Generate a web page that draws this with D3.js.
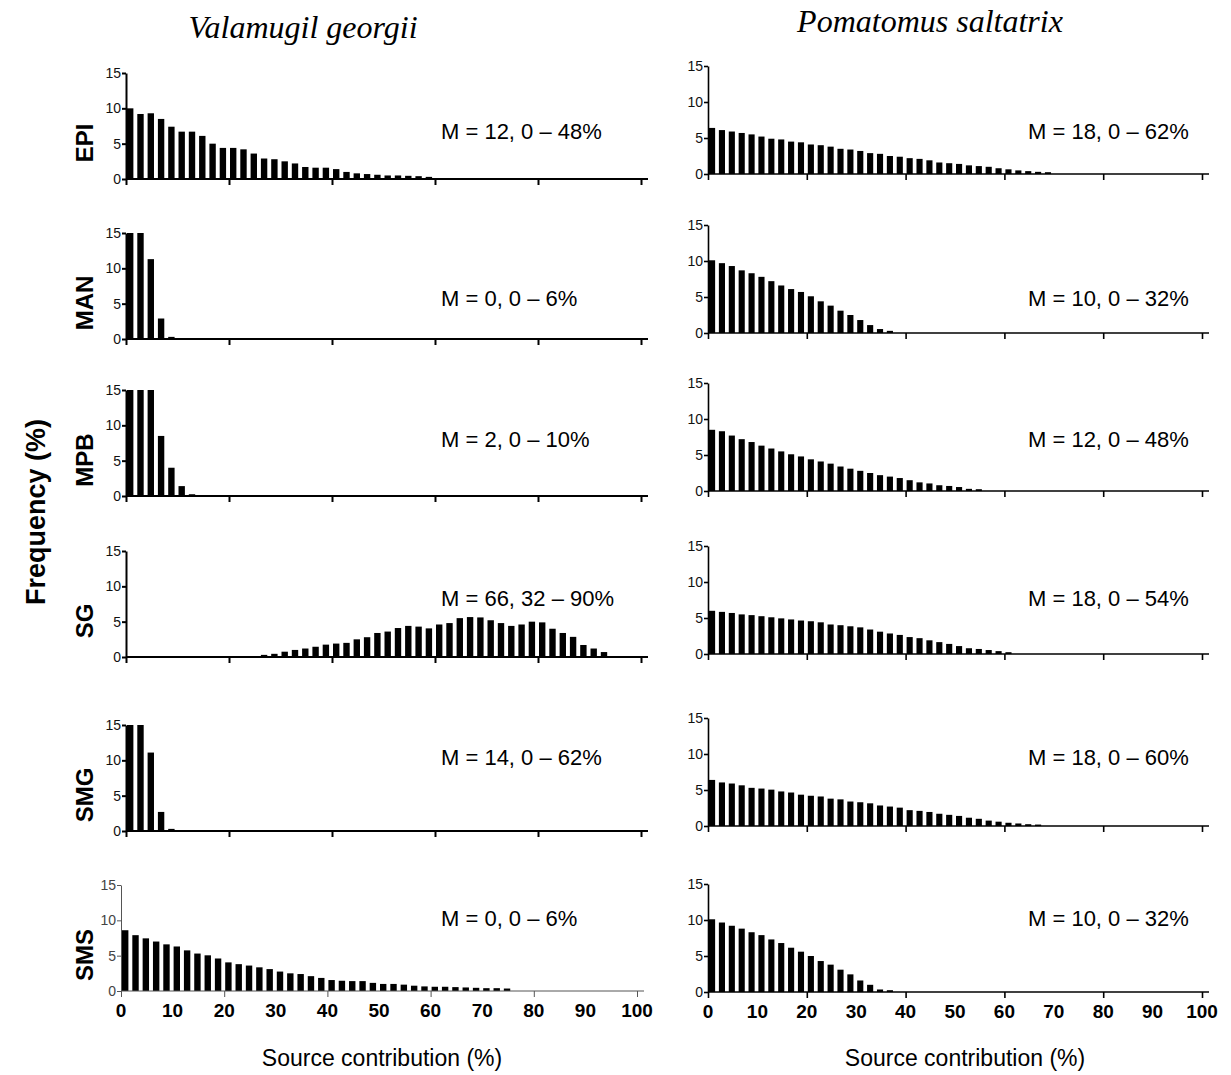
<!DOCTYPE html>
<html>
<head>
<meta charset="utf-8">
<script src="https://cdn.jsdelivr.net/npm/d3@7"></script>
<style>
  body { margin: 0; background: #fff; }
  svg text { font-family: Arial, "Liberation Sans", sans-serif; }
</style>
</head>
<body>
<svg id="board" width="1231" height="1075"></svg>
<script>
// sources (rows) and species (columns)
let sources = ['EPI', 'MAN', 'MPB', 'SG', 'SMG', 'SMS']
let species = ['Valamugil georgii', 'Pomatomus saltatrix']

// Valamugil georgii frequencies (%), 2% bins
let vgEPI = [10.0, 9.2, 9.3, 8.5, 7.4, 6.7, 6.7, 6.1, 5.0, 4.4, 4.4, 4.2, 3.6, 2.9, 2.8, 2.5, 2.2, 1.7, 1.6, 1.6, 1.4, 1.0, 0.8, 0.7, 0.6, 0.5, 0.5, 0.45, 0.4, 0.3]
let vgMAN = [15, 15, 11.3, 2.9, 0.3]
let vgMPB = [15, 15, 15, 8.5, 4.0, 1.4, 0.25]
let vgSG = [0.3, 0.45, 0.75, 1.0, 1.2, 1.45, 1.75, 1.9, 2.0, 2.5, 2.8, 3.4, 3.6, 4.1, 4.4, 4.3, 4.05, 4.6, 4.8, 5.5, 5.65, 5.6, 5.2, 4.8, 4.4, 4.6, 5.0, 4.9, 4.0, 3.4, 2.85, 1.7, 1.2, 0.7]
let vgSMG = [15, 15, 11.1, 2.7, 0.3]
let vgSMS = [8.6, 7.9, 7.45, 7.0, 6.6, 6.3, 5.75, 5.3, 5.05, 4.6, 4.05, 3.8, 3.6, 3.35, 3.1, 2.75, 2.5, 2.4, 2.1, 1.85, 1.55, 1.45, 1.4, 1.4, 1.15, 1.0, 1.0, 0.9, 0.75, 0.65, 0.6, 0.6, 0.55, 0.5, 0.45, 0.4, 0.4, 0.35]
let vgStart = [0, 0, 0, 26, 0, 0]
let vgLabels = ['M = 12, 0 – 48%', 'M = 0, 0 – 6%', 'M = 2, 0 – 10%', 'M = 66, 32 – 90%', 'M = 14, 0 – 62%', 'M = 0, 0 – 6%']

// Pomatomus saltatrix frequencies (%), 2% bins
let psEPI = [6.4, 6.1, 5.9, 5.7, 5.5, 5.2, 4.9, 4.8, 4.5, 4.4, 4.1, 4.0, 3.8, 3.5, 3.4, 3.2, 2.9, 2.8, 2.5, 2.4, 2.2, 2.1, 1.9, 1.6, 1.5, 1.4, 1.2, 1.1, 1.0, 0.8, 0.65, 0.5, 0.4, 0.3, 0.25]
let psMAN = [10.1, 9.7, 9.3, 8.7, 8.3, 7.8, 7.2, 6.6, 6.1, 5.7, 5.1, 4.4, 3.8, 3.1, 2.5, 1.8, 1.1, 0.55, 0.3]
let psMPB = [8.5, 8.3, 7.7, 7.2, 6.8, 6.3, 5.9, 5.5, 5.1, 4.8, 4.4, 4.1, 3.8, 3.4, 3.1, 2.8, 2.5, 2.2, 2.0, 1.8, 1.5, 1.2, 1.05, 0.8, 0.7, 0.55, 0.3, 0.25]
let psSG = [6.0, 5.85, 5.7, 5.5, 5.4, 5.25, 5.1, 4.95, 4.8, 4.65, 4.55, 4.4, 4.1, 4.0, 3.85, 3.7, 3.4, 3.1, 2.85, 2.65, 2.35, 2.2, 1.9, 1.65, 1.4, 1.1, 0.8, 0.7, 0.55, 0.4, 0.25]
let psSMG = [6.4, 6.05, 5.9, 5.65, 5.3, 5.2, 5.05, 4.8, 4.65, 4.35, 4.2, 4.1, 3.8, 3.7, 3.4, 3.3, 3.15, 2.85, 2.7, 2.55, 2.2, 2.1, 1.95, 1.7, 1.55, 1.4, 1.15, 1.0, 0.75, 0.6, 0.45, 0.35, 0.25, 0.2]
let psSMS = [10.1, 9.65, 9.2, 8.8, 8.3, 7.9, 7.3, 6.8, 6.15, 5.6, 5.0, 4.3, 3.8, 3.1, 2.45, 1.6, 1.0, 0.35, 0.25]
let psStart = [0, 0, 0, 0, 0, 0]
let psLabels = ['M = 18, 0 – 62%', 'M = 10, 0 – 32%', 'M = 12, 0 – 48%', 'M = 18, 0 – 54%', 'M = 18, 0 – 60%', 'M = 10, 0 – 32%']

let binWidth = 2
let yTicks = [0, 5, 10, 15]
let xTickMarks = [0, 20, 40, 60, 80, 100]
let xTickLabels = [0, 10, 20, 30, 40, 50, 60, 70, 80, 90, 100]

let columns = [
    { name: species[0], series: [vgEPI, vgMAN, vgMPB, vgSG, vgSMG, vgSMS], start: vgStart, labels: vgLabels },
    { name: species[1], series: [psEPI, psMAN, psMPB, psSG, psSMG, psSMS], start: psStart, labels: psLabels }
]

// panel layout
let colLayout = [
    { x0: 126, x1: 641, tops: [73, 233, 390, 551, 725, 885], h: 106, textX: 441, titleX: 303, titleY: 38, axisW: 2, xTitle: 382 },
    { x0: 708, x1: 1202, tops: [66, 225, 383, 546, 718, 884], h: 108, textX: 1028, titleX: 930, titleY: 32, axisW: 1.6, xTitle: 965 }
]
let textY = [139, 306, 447, 606, 765, 926]

let board = d3.select('#board')

columns.forEach((col, c) => {
    let lay = colLayout[c]

    board.append('text')
        .attr('x', lay.titleX)
        .attr('y', lay.titleY)
        .attr('text-anchor', 'middle')
        .style('font-family', '"Liberation Serif", "Times New Roman", serif')
        .style('font-style', 'italic')
        .style('font-size', '32px')
        .text(col.name)

    col.series.forEach((values, r) => {
        let last = (r === sources.length - 1)
        let thin = (c === 0 && last)
        let x0 = thin ? lay.x0 - 5 : lay.x0
        let x1 = thin ? lay.x1 - 4 : lay.x1
        let top = lay.tops[r]
        let bottom = top + lay.h

        let x = d3.scaleLinear().domain([0, 100]).range([x0, x1])
        let y = d3.scaleLinear().domain([0, 15]).range([bottom, top]).clamp(true)

        let g = board.append('g')
        let axisColor = thin ? '#555' : '#000'
        let axisW = thin ? 1 : lay.axisW

        // bars
        let barW = (x(binWidth) - x(0)) * 0.62
        g.selectAll('rect')
            .data(values)
            .enter()
            .append('rect')
            .attr('x', (d, i) => x(col.start[r] + i * binWidth) + 1)
            .attr('width', barW)
            .attr('y', (d) => y(d))
            .attr('height', (d) => y(0) - y(d))
            .attr('fill', '#000')

        // y axis
        let yAxis = d3.axisLeft(y).tickValues(yTicks).tickSize(4).tickSizeOuter(0)
        let ya = g.append('g')
            .attr('transform', 'translate(' + x0 + ',0)')
            .call(yAxis)
        ya.selectAll('path, line').attr('stroke', axisColor).attr('stroke-width', axisW)
        ya.selectAll('text')
            .style('font-size', '14px')
            .attr('fill', thin ? '#444' : '#111')
            .attr('x', -5)

        // x axis
        let xa = g.append('g')
            .attr('transform', 'translate(0,' + bottom + ')')
            .call(d3.axisBottom(x).tickValues(xTickMarks).tickSize(6).tickSizeOuter(0).tickFormat(''))
        xa.select('.domain').attr('d', 'M' + x0 + ',0H' + (x1 + 7))
        xa.selectAll('path, line').attr('stroke', axisColor).attr('stroke-width', axisW)

        if (last) {
            g.selectAll('.xlab')
                .data(xTickLabels)
                .enter()
                .append('text')
                .attr('class', 'xlab')
                .attr('x', (d) => x(d))
                .attr('y', bottom + 26)
                .attr('text-anchor', 'middle')
                .style('font-weight', 'bold')
                .style('font-size', '19px')
                .text((d) => d)

            board.append('text')
                .attr('x', lay.xTitle)
                .attr('y', 1066)
                .attr('text-anchor', 'middle')
                .style('font-size', '23px')
                .text('Source contribution (%)')
        }

        // annotation
        board.append('text')
            .attr('x', lay.textX)
            .attr('y', textY[r])
            .style('font-size', '22px')
            .text(col.labels[r])

        // row label
        if (c === 0) {
            board.append('text')
                .attr('transform', 'translate(93,' + (top + lay.h * 0.66) + ') rotate(-90)')
                .attr('text-anchor', 'middle')
                .style('font-weight', 'bold')
                .style('font-size', '24px')
                .text(sources[r])
        }
    })
})

board.append('text')
    .attr('transform', 'translate(45,512) rotate(-90)')
    .attr('text-anchor', 'middle')
    .style('font-weight', 'bold')
    .style('font-size', '27px')
    .text('Frequency (%)')
</script>
</body>
</html>
